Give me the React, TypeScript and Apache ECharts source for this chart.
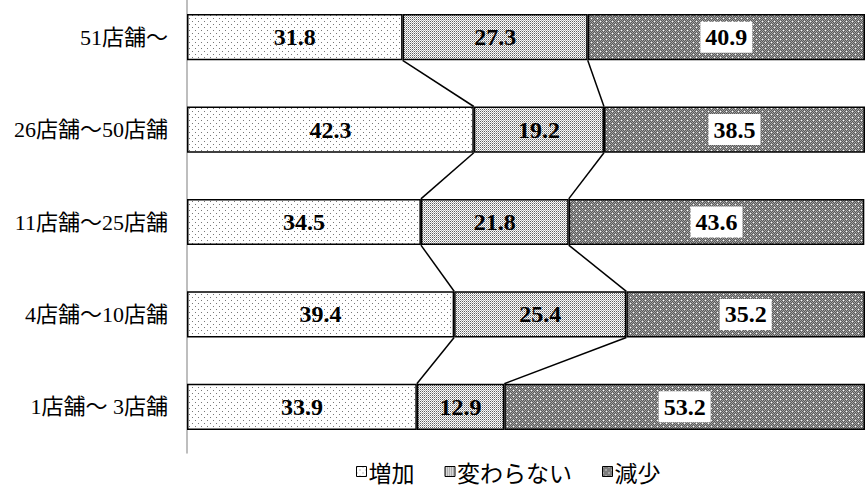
import React, { useEffect, useRef } from "react";
import * as echarts from "echarts";

const categories = ["51店舗～", "26店舗～50店舗", "11店舗～25店舗", "4店舗～10店舗", "1店舗～ 3店舗"];
const seriesNames = ["増加", "変わらない", "減少"];
const increase = [31.8, 42.3, 34.5, 39.4, 33.9];
const unchanged = [27.3, 19.2, 21.8, 25.4, 12.9];
const decrease = [40.9, 38.5, 43.6, 35.2, 53.2];

type Px = [number, number, string];

function makePattern(w: number, h: number, bg: string, pixels: Px[]) {
  const c = document.createElement("canvas");
  c.width = w;
  c.height = h;
  const ctx = c.getContext("2d")!;
  ctx.fillStyle = bg;
  ctx.fillRect(0, 0, w, h);
  pixels.forEach(([x, y, col]) => {
    ctx.fillStyle = col;
    ctx.fillRect(x, y, 1, 1);
  });
  return { image: c.toDataURL(), repeat: "repeat", imageWidth: w, imageHeight: h } as any;
}

function decreasePixels(): Px[] {
  const out: Px[] = [];
  for (let y = 0; y < 6; y++) {
    for (let x = 0; x < 6; x++) {
      out.push([x, y, (x + y) % 2 === 0 ? "#5a5a5a" : "#a0a0a0"]);
    }
  }
  out.push([0, 0, "#ffffff"]);
  out.push([3, 3, "#ffffff"]);
  return out;
}

export default function App() {
  const ref = useRef<HTMLDivElement>(null);

  useEffect(() => {
    if (!ref.current) return;
    const chart = echarts.init(ref.current, null, { renderer: "svg" });

    const incFill = makePattern(6, 6, "#ffffff", [
      [0, 0, "#777777"],
      [3, 3, "#777777"],
    ]);
    const sameFill = makePattern(2, 2, "#ffffff", [
      [0, 0, "#5e5e5e"],
      [1, 1, "#b0b0b0"],
    ]);
    const decFill = makePattern(6, 6, "#808080", decreasePixels());

    // connector lines between segment boundaries of neighbouring bars
    const connectors: number[][] = [];
    for (let i = 0; i < categories.length - 1; i++) {
      connectors.push([increase[i], i, increase[i + 1], i + 1]);
      connectors.push([increase[i] + unchanged[i], i, increase[i + 1] + unchanged[i + 1], i + 1]);
    }

    const valueFont = {
      fontFamily: "'Liberation Serif', 'DejaVu Serif', serif",
      fontWeight: "bold" as const,
      fontSize: 24,
      color: "#000",
    };

    const barBase = {
      type: "bar" as const,
      stack: "total",
      barWidth: "50%",
      itemStyle: { borderColor: "#000", borderWidth: 1.5 },
    };

    chart.setOption({
      animation: false,
      grid: { left: 187, top: 0, height: 462, width: 689 },
      legend: {
        data: seriesNames,
        top: 469,
        left: 356,
        padding: 0,
        itemWidth: 10,
        itemHeight: 10,
        itemGap: 30,
        icon: "rect",
        itemStyle: { borderColor: "#000", borderWidth: 1 },
        textStyle: { fontFamily: "'Noto Sans CJK JP', sans-serif", fontSize: 23, color: "#000", padding: [0, 0, 0, -3] },
      },
      xAxis: { type: "value", min: 0, max: 100, show: false },
      yAxis: {
        type: "category",
        data: categories,
        inverse: true,
        axisTick: { show: false },
        axisLine: { show: true, lineStyle: { color: "#a8a8a8", width: 1.5 } },
        axisLabel: {
          margin: 19,
          fontSize: 22,
          color: "#000",
          fontFamily: "'Liberation Serif', 'Noto Sans CJK JP', serif",
        },
        splitLine: { show: false },
      },
      series: [
        {
          ...barBase,
          name: seriesNames[0],
          data: increase,
          itemStyle: { ...barBase.itemStyle, color: incFill },
          label: { show: true, position: "inside", ...valueFont },
        },
        {
          ...barBase,
          name: seriesNames[1],
          data: unchanged,
          itemStyle: { ...barBase.itemStyle, color: sameFill },
          label: { show: true, position: "inside", ...valueFont },
        },
        {
          ...barBase,
          name: seriesNames[2],
          data: decrease,
          itemStyle: { ...barBase.itemStyle, color: decFill },
          label: {
            show: true,
            position: "inside",
            ...valueFont,
            backgroundColor: "#ffffff",
            padding: [4, 5, 3, 5],
          },
        },
        {
          type: "custom",
          name: "connector",
          data: connectors,
          silent: true,
          z: 5,
          renderItem: (_params: any, api: any) => {
            const band = api.size([0, 1])[1];
            const half = (band * 0.5) / 2;
            const p1 = api.coord([api.value(0), api.value(1)]);
            const p2 = api.coord([api.value(2), api.value(3)]);
            return {
              type: "line",
              shape: { x1: p1[0], y1: p1[1] + half, x2: p2[0], y2: p2[1] - half },
              style: { stroke: "#000", lineWidth: 1.5 },
            };
          },
        },
      ],
    });

    return () => chart.dispose();
  }, []);

  return (
    <div
      ref={ref}
      style={{ position: "absolute", left: 0, top: -9, width: 865, height: 496 }}
    />
  );
}
